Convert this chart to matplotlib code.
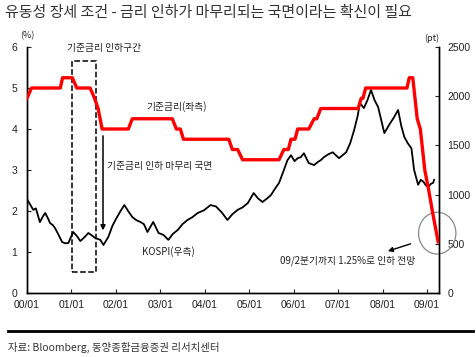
import numpy as np
import matplotlib.pyplot as plt
from matplotlib.patches import Rectangle, Ellipse
from matplotlib.lines import Line2D

plt.rcParams['font.family'] = ['Noto Sans CJK KR', 'DejaVu Sans']

# years since 2000/01
rate_t = [0.0, 0.1, 0.75, 0.8, 1.02, 1.12, 1.42, 1.52, 1.6, 1.69, 2.28, 2.37,
          3.27, 3.36, 3.45, 3.52, 4.54, 4.62, 4.74, 4.85, 5.67, 5.78, 5.88, 5.94,
          6.03, 6.09, 6.34, 6.46, 6.52, 6.61, 7.45, 7.52, 7.56, 7.62, 8.55, 8.6,
          8.68, 8.78, 8.85, 8.95, 9.04, 9.12, 9.25]
rate = [4.75, 5.0, 5.0, 5.25, 5.25, 5.0, 5.0, 4.75, 4.5, 4.0, 4.0, 4.25,
        4.25, 4.0, 4.0, 3.75, 3.75, 3.5, 3.5, 3.25, 3.25, 3.5, 3.5, 3.75,
        3.75, 4.0, 4.0, 4.25, 4.25, 4.5, 4.5, 4.75, 4.75, 5.0, 5.0, 5.25,
        5.25, 4.25, 4.0, 3.0, 2.5, 2.0, 1.25]

kospi_t = [0.0, 0.07, 0.14, 0.2, 0.29, 0.36, 0.41, 0.47, 0.52, 0.58, 0.63, 0.7,
           0.79, 0.86, 0.93, 1.04, 1.12, 1.2, 1.3, 1.38, 1.46, 1.53, 1.65, 1.72,
           1.83, 1.92, 1.99, 2.1, 2.19, 2.28, 2.37, 2.46, 2.55, 2.63, 2.71, 2.84,
           2.96, 3.07, 3.18, 3.28, 3.39, 3.5, 3.61, 3.72, 3.84, 3.98, 4.13, 4.25,
           4.38, 4.51, 4.62, 4.74, 4.85, 4.97, 5.1, 5.2, 5.3, 5.4, 5.49, 5.58,
           5.67, 5.78, 5.86, 5.94, 6.02, 6.09, 6.16, 6.23, 6.34, 6.46, 6.54, 6.61,
           6.68, 6.78, 6.88, 6.95, 7.02, 7.1, 7.18, 7.27, 7.36, 7.44, 7.49, 7.58,
           7.66, 7.74, 7.82, 7.9, 8.04, 8.15, 8.25, 8.35, 8.42, 8.49, 8.57, 8.65,
           8.71, 8.8, 8.86, 8.92, 8.98, 9.03, 9.09, 9.14, 9.16]
kospi = [955, 900, 845, 860, 720, 780, 813, 760, 710, 690, 660, 600,
         518, 505, 508, 620, 580, 528, 570, 610, 585, 560, 540, 488,
         570, 680, 742, 830, 894, 830, 772, 740, 722, 700, 620, 722,
         610, 590, 540, 600, 640, 700, 742, 770, 813, 840, 894, 880,
         820, 742, 800, 845, 870, 915, 1016, 960, 925, 960, 996, 1060,
         1118, 1250, 1350, 1400, 1340, 1370, 1380, 1420, 1320, 1300, 1330, 1350,
         1380, 1410, 1430, 1400, 1370, 1400, 1430, 1520, 1655, 1800, 1930, 1880,
         1960, 2063, 1960, 1890, 1625, 1710, 1780, 1860, 1700, 1585, 1520, 1470,
         1250, 1100, 1150, 1130, 1090, 1080, 1110, 1120, 1150]

xticks = list(range(10))
xlabels = ['00/01', '01/01', '02/01', '03/01', '04/01', '05/01', '06/01', '07/01', '08/01', '09/01']

fig = plt.figure(figsize=(4.76, 3.57), dpi=100)
ax = fig.add_axes([27/476, 1-293/357, 412/476, 246/357])
ax2 = ax.twinx()

ax.plot(rate_t, rate, color='#ff0000', lw=2.4, zorder=3)
ax2.plot(kospi_t, kospi, color='black', lw=1.3)
ax.set_zorder(ax2.get_zorder() + 1)
ax.patch.set_visible(False)

ax.set_xlim(0, 9.27)
ax.set_ylim(0, 6)
ax2.set_ylim(0, 2500)
ax.set_xticks(xticks)
ax.set_xticklabels(xlabels)
ax.set_yticks(range(7))
ax2.set_yticks(range(0, 2501, 500))
for a in (ax, ax2):
    a.spines['top'].set_visible(False)
    a.tick_params(direction='in', length=3, labelsize=7.5, colors='#222222', width=0.8)
    for s in a.spines.values():
        s.set_linewidth(1.0)
ax.tick_params(axis='y', pad=7)
ax.tick_params(axis='x', pad=5)
ax2.tick_params(axis='y', pad=6)
for lab in ax.get_xticklabels() + ax.get_yticklabels() + ax2.get_yticklabels():
    lab.set_family('Liberation Sans')

fig.text(27/476, 1-36/357, '(%)', fontsize=6.5, ha='center', va='center', color='#222222')
fig.text(432/476, 1-38/357, '(pt)', fontsize=6.5, ha='center', va='center', color='#222222')

# annotations
ax.add_patch(Rectangle((1.02, 0.51), 0.54, 5.15, fill=False, ls='--', lw=1.1, ec='black'))
ax.text(0.9, 5.98, '기준금리 인하구간', fontsize=7, va='center', color='#222222')
ax.text(2.68, 4.54, '기준금리(좌측)', fontsize=7, va='center', color='#222222')
ax.annotate('', xy=(1.71, 1.46), xytext=(1.71, 3.9),
            arrowprops=dict(arrowstyle='-|>', color='black', lw=1.1, mutation_scale=7))
ax.text(1.8, 3.1, '기준금리 인하 마무리 국면', fontsize=7, va='center', color='#222222')
ax.text(2.59, 1.0, 'KOSPI(우측)', fontsize=7, va='center', color='#222222')
ax.text(5.7, 0.78, '09/2분기까지 1.25%로 인하 전망', fontsize=7, va='center', color='#222222')
ax.annotate('', xy=(8.06, 1.0), xytext=(8.69, 1.22),
            arrowprops=dict(arrowstyle='-|>', color='black', lw=1.0, mutation_scale=7))
ax.add_patch(Ellipse((9.23, 1.46), 0.84, 1.02, fill=False, ec='#888888', lw=0.9, clip_on=False))

fig.text(5/476, 1-13/357, '유동성 장세 조건 - 금리 인하가 마무리되는 국면이라는 확신이 필요',
         fontsize=10.8, fontweight='medium', va='center', ha='left', color='#333333')
fig.add_artist(Line2D([8/476, 473/476], [1-331/357, 1-331/357], color='black', lw=2,
                      transform=fig.transFigure))
fig.text(8/476, 1-347/357, '자료: Bloomberg, 동양종합금융증권 리서치센터', fontsize=7.5,
         style='italic', va='center', ha='left', color='#333333')

fig.savefig('out.png', dpi=100)
